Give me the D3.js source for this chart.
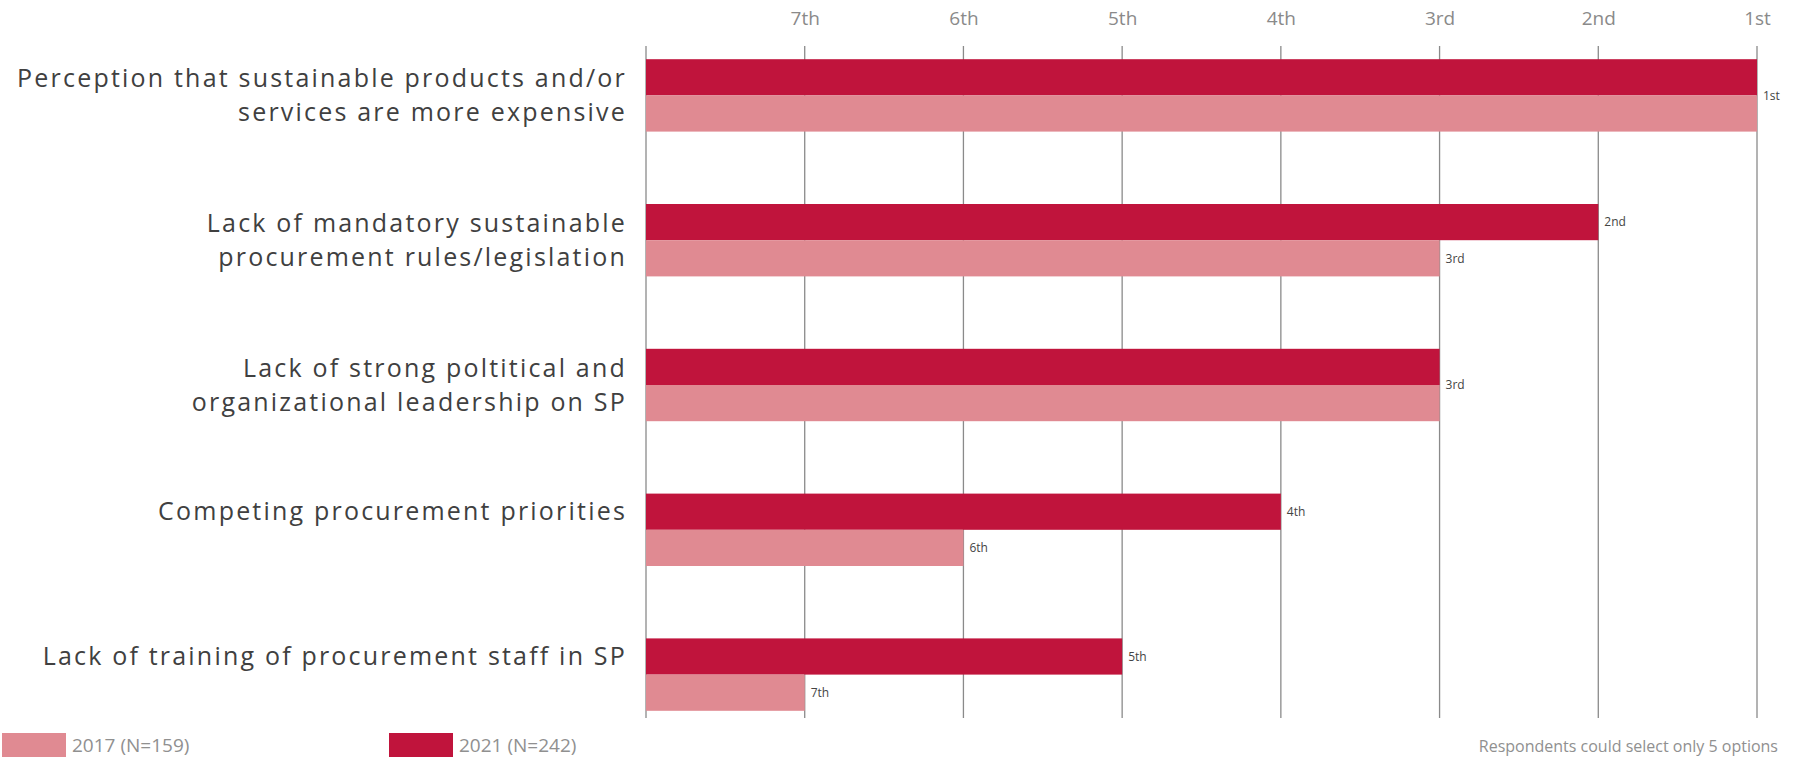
<!DOCTYPE html>
<html>
<head>
<meta charset="utf-8">
<script src="https://cdn.jsdelivr.net/npm/d3@7"></script>
<style>
  html, body { margin: 0; padding: 0; background: #ffffff; }
  svg { display: block; }
  text { font-family: "Open Sans", "Liberation Sans", sans-serif; }
</style>
</head>
<body>
<svg id="chart" width="1793" height="765"></svg>
<script>
// ---- data ----
const categories = [
  ["Perception that sustainable products and/or", "services are more expensive"],
  ["Lack of mandatory sustainable", "procurement rules/legislation"],
  ["Lack of strong poltitical and", "organizational leadership on SP"],
  ["Competing procurement priorities"],
  ["Lack of training of procurement staff in SP"]
];
const ranks2021 = [1, 2, 3, 4, 5];
const ranks2017 = [1, 3, 3, 6, 7];
const tickValues = [7, 6, 5, 4, 3, 2, 1];
const tickLabels = ["7th", "6th", "5th", "4th", "3rd", "2nd", "1st"];
const rankLabels = {1: "1st", 2: "2nd", 3: "3rd", 4: "4th", 5: "5th", 6: "6th", 7: "7th"};
const seriesKeys = ["2021", "2017"];
const legendKeys = ["2017", "2021"];
const legendLabels = ["2017 (N=159)", "2021 (N=242)"];
const note = "Respondents could select only 5 options";

const color = { "2021": "#c0143c", "2017": "#e08a92" };

// ---- scales ----
const svg = d3.select("#chart");
const x = d3.scaleLinear().domain([8, 1]).range([646, 1757]);
const y = d3.scaleBand().domain(d3.range(categories.length)).range([23, 747])
  .paddingInner(0.5).paddingOuter(0.25);
const ySub = d3.scaleBand().domain(seriesKeys).range([0, y.bandwidth()]);

const gridTop = 46, gridBottom = 718;

// gridlines
svg.append("g").selectAll("line")
  .data([8].concat(tickValues))
  .join("line")
  .attr("x1", d => x(d)).attr("x2", d => x(d))
  .attr("y1", gridTop).attr("y2", gridBottom)
  .attr("stroke", "#8a8a8a").attr("stroke-width", 1.3);

// top axis labels
const axis = d3.axisTop(x).tickValues(tickValues)
  .tickFormat((d, i) => tickLabels[i]).tickSize(0).tickPadding(0);
const ax = svg.append("g").attr("transform", "translate(0,18)").call(axis);
ax.select(".domain").remove();
ax.selectAll("text")
  .attr("dy", "0.35em")
  .style("font-family", "'Open Sans', sans-serif")
  .style("font-size", "19px")
  .attr("fill", "#8a8a8a");

// bars
const rows = categories.map((c, i) => ({ i, v2021: ranks2021[i], v2017: ranks2017[i] }));
const g = svg.append("g");
rows.forEach(r => {
  seriesKeys.forEach(k => {
    const v = k === "2021" ? r.v2021 : r.v2017;
    g.append("rect")
      .attr("x", x(8))
      .attr("y", y(r.i) + ySub(k))
      .attr("width", x(v) - x(8))
      .attr("height", ySub.bandwidth())
      .attr("fill", color[k]);
  });
});

// value labels
rows.forEach(r => {
  const items = r.v2021 === r.v2017
    ? [{ v: r.v2021, cy: y(r.i) + y.bandwidth() / 2 }]
    : [{ v: r.v2021, cy: y(r.i) + ySub("2021") + ySub.bandwidth() / 2 },
       { v: r.v2017, cy: y(r.i) + ySub("2017") + ySub.bandwidth() / 2 }];
  items.forEach(it => {
    svg.append("text")
      .attr("x", x(it.v) + 6)
      .attr("y", it.cy)
      .attr("dy", "0.35em")
      .attr("font-size", 12)
      .attr("fill", "#444")
      .text(rankLabels[it.v]);
  });
});

// category labels
const lineH = 34.5;
categories.forEach((lines, i) => {
  const cy = lines.length > 1
    ? y(i) + y.bandwidth() / 2
    : y(i) + ySub("2021") + ySub.bandwidth() / 2;
  const t = svg.append("text")
    .attr("text-anchor", "end")
    .attr("font-size", 25)
    .attr("letter-spacing", "2.2px")
    .attr("fill", "#404040");
  lines.forEach((ln, j) => {
    t.append("tspan")
      .attr("x", 627)
      .attr("y", cy + (j - (lines.length - 1) / 2) * lineH)
      .attr("dy", "0.35em")
      .text(ln);
  });
});

// legend
const legendX = [2, 389];
legendKeys.forEach((k, i) => {
  svg.append("rect").attr("x", legendX[i]).attr("y", 733).attr("width", 64).attr("height", 24)
    .attr("fill", color[k]);
  svg.append("text").attr("x", legendX[i] + 70).attr("y", 745).attr("dy", "0.35em")
    .attr("font-size", 19).attr("fill", "#909090").text(legendLabels[i]);
});

svg.append("text").attr("x", 1778).attr("y", 746).attr("dy", "0.35em")
  .attr("text-anchor", "end").attr("font-size", 16).attr("fill", "#909090").text(note);
</script>
</body>
</html>
